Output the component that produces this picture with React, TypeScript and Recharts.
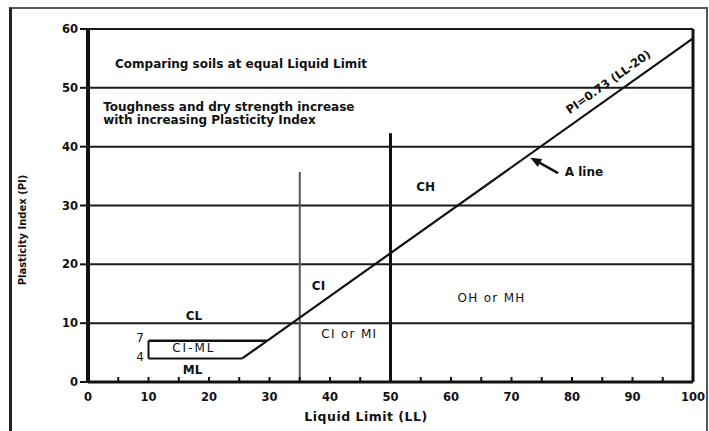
import React from 'react';
import { ComposedChart, XAxis, YAxis, CartesianGrid, ReferenceLine, Scatter } from 'recharts';

const LL_TICKS = [0, 5, 10, 15, 20, 25, 30, 35, 40, 45, 50, 55, 60, 65, 70, 75, 80, 85, 90, 95, 100];
const LL_LABELS = [0, 10, 20, 30, 40, 50, 60, 70, 80, 90, 100];
const PI_TICKS = [0, 10, 20, 30, 40, 50, 60];

const A_LINE = [{ x: 29.6, y: 7 }, { x: 100, y: 58.4 }];
const CLML_TOP = [{ x: 10, y: 7 }, { x: 29.6, y: 7 }];
const CLML_BOTTOM = [{ x: 10, y: 4 }, { x: 25.5, y: 4 }];
const CLML_LEFT = [{ x: 10, y: 4 }, { x: 10, y: 7 }];
const CLML_JOIN = [{ x: 25.5, y: 4 }, { x: 29.6, y: 7 }];
const LL35_LINE = [{ x: 35, y: 0 }, { x: 35, y: 35.7 }];
const LL50_LINE = [{ x: 50, y: 0 }, { x: 50, y: 42.3 }];
const ARROW_SHAFT = [{ x: 77.7, y: 35.5 }, { x: 74.6, y: 37.3 }];
const ARROW_TIP = [{ x: 73.1, y: 38.1 }];

type Lbl = {
  x: number;
  y: number;
  text: string;
  anchor?: string;
  weight?: string;
  rotate?: number;
  size?: number;
  spacing?: number;
};
const LABELS: Lbl[] = [
  { x: 25.3, y: 54.1, text: 'Comparing soils at equal Liquid Limit' },
  { x: 2.5, y: 46.7, text: 'Toughness and dry strength increase', anchor: 'start' },
  { x: 2.5, y: 44.5, text: 'with increasing Plasticity Index', anchor: 'start' },
  { x: 86.0, y: 51.0, text: 'PI=0.73 (LL-20)', rotate: -35.4, size: 11.5 },
  { x: 78.8, y: 35.7, text: 'A line', anchor: 'start' },
  { x: 55.8, y: 33.1, text: 'CH' },
  { x: 38.1, y: 16.3, text: 'CI' },
  { x: 17.5, y: 11.2, text: 'CL' },
  { x: 17.5, y: 5.8, text: 'CI-ML', weight: 'normal', spacing: 2 },
  { x: 17.3, y: 2.05, text: 'ML' },
  { x: 8.6, y: 7.4, text: '7', weight: 'normal' },
  { x: 8.6, y: 4.2, text: '4', weight: 'normal' },
  { x: 43.2, y: 8.2, text: 'CI or MI', weight: 'normal', spacing: 1.3 },
  { x: 66.7, y: 14.3, text: 'OH or MH', weight: 'normal', spacing: 1.3 },
];

const FONT = 'DejaVu Sans, Verdana, sans-serif';
const INK = '#111';

const renderLabel = (props: any) => {
  const { cx, cy, payload } = props;
  const rot = payload.rotate;
  return (
    <text
      x={cx}
      y={cy}
      textAnchor={payload.anchor || 'middle'}
      dominantBaseline="central"
      fontFamily={FONT}
      fontSize={payload.size || 12}
      fontWeight={payload.weight || 'bold'}
      letterSpacing={payload.spacing || 0}
      fill={INK}
      transform={rot ? `rotate(${rot} ${cx} ${cy})` : undefined}
    >
      {payload.text}
    </text>
  );
};

const renderArrowHead = (props: any) => {
  const { cx, cy } = props;
  return (
    <polygon
      points="0,0 -11,-4.5 -11,4.5"
      fill={INK}
      transform={`translate(${cx} ${cy}) rotate(-151.8)`}
    />
  );
};

const XTick = (props: any) => {
  const { x, y, payload } = props;
  const v = payload.value;
  return (
    <g>
      {v !== 0 && v !== 100 && (
        <line x1={x} x2={x} y1={y} y2={y - 5} stroke={INK} strokeWidth={2} />
      )}
      {LL_LABELS.includes(v) && (
        <text
          x={x}
          y={y + 14.5}
          textAnchor="middle"
          dominantBaseline="central"
          fontFamily={FONT}
          fontSize={11.5}
          fontWeight="bold"
          fill={INK}
        >
          {v}
        </text>
      )}
    </g>
  );
};

const XLabel = (props: any) => {
  const { viewBox } = props;
  return (
    <text
      x={viewBox.x + 278}
      y={viewBox.y + 34}
      textAnchor="middle"
      dominantBaseline="central"
      fontFamily={FONT}
      fontSize={12.5}
      fontWeight="bold"
      letterSpacing={0.5}
      fill={INK}
    >
      Liquid Limit (LL)
    </text>
  );
};

const YLabel = (props: any) => {
  const { viewBox } = props;
  const x = viewBox.x - 26;
  const y = viewBox.y + 201;
  return (
    <text
      x={x}
      y={y}
      textAnchor="middle"
      dominantBaseline="central"
      fontFamily={FONT}
      fontSize={10}
      fontWeight="bold"
      fill={INK}
      transform={`rotate(-90 ${x} ${y})`}
    >
      Plasticity Index (PI)
    </text>
  );
};

export default function App() {
  return (
    <div style={{ position: 'absolute', left: 0, top: 0, width: 709, height: 431, background: '#fff' }}>
      <div
        style={{
          position: 'absolute',
          left: 9,
          top: 7,
          width: 699,
          height: 424,
          borderLeft: '3px solid #222',
          borderTop: '2px solid #555',
          borderRight: '2px solid #555',
          boxSizing: 'border-box',
        }}
      />
      <ComposedChart
        width={709}
        height={431}
        margin={{ top: 29, right: 16, bottom: 19, left: 48 }}
        style={{ position: 'absolute', left: 0, top: 0 }}
      >
        <CartesianGrid horizontal vertical={false} stroke="#1a1a1a" strokeWidth={2} />
        <XAxis
          type="number"
          dataKey="x"
          domain={[0, 100]}
          ticks={LL_TICKS}
          interval={0}
          tick={<XTick />}
          tickLine={false}
          tickSize={0}
          tickMargin={0}
          height={30}
          axisLine={{ stroke: INK, strokeWidth: 3 }}
          label={<XLabel />}
        />
        <YAxis
          type="number"
          dataKey="y"
          domain={[0, 60]}
          ticks={PI_TICKS}
          interval={0}
          width={40}
          tickSize={8}
          tickMargin={2}
          tickLine={{ stroke: INK, strokeWidth: 2 }}
          tick={{ fontFamily: FONT, fontSize: 11.5, fontWeight: 'bold', fill: INK }}
          axisLine={{ stroke: INK, strokeWidth: 4 }}
          label={<YLabel />}
        />
        <ReferenceLine x={100} stroke={INK} strokeWidth={3} />
        <ReferenceLine segment={LL35_LINE} stroke="#555" strokeWidth={2} />
        <ReferenceLine segment={LL50_LINE} stroke={INK} strokeWidth={3} />
        <ReferenceLine segment={A_LINE} stroke={INK} strokeWidth={2.2} />
        <ReferenceLine segment={CLML_TOP} stroke={INK} strokeWidth={2.5} />
        <ReferenceLine segment={CLML_BOTTOM} stroke={INK} strokeWidth={2} />
        <ReferenceLine segment={CLML_LEFT} stroke={INK} strokeWidth={2} />
        <ReferenceLine segment={CLML_JOIN} stroke={INK} strokeWidth={2.2} />
        <ReferenceLine segment={ARROW_SHAFT} stroke={INK} strokeWidth={2.5} />
        <Scatter data={ARROW_TIP} dataKey="y" shape={renderArrowHead} isAnimationActive={false} />
        <Scatter data={LABELS} dataKey="y" shape={renderLabel} isAnimationActive={false} />
      </ComposedChart>
    </div>
  );
}
